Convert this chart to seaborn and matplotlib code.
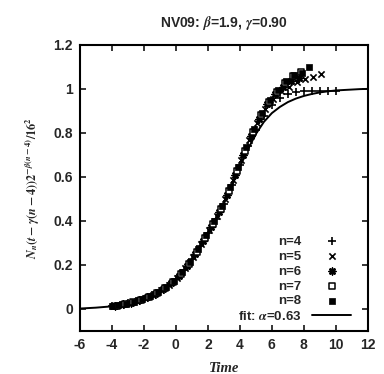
import numpy as np
import pandas as pd
import matplotlib
matplotlib.use("Agg")
import matplotlib.pyplot as plt
import seaborn as sns

# rescaled data, one series per n
t_n4 = [-4.0, -3.5, -3.0, -2.5, -2.0, -1.5, -1.0, -0.5, 0.0, 0.5, 1.0, 1.5, 2.0, 2.5,
        3.0, 3.5, 4.0, 4.5, 5.0, 5.5, 6.0, 6.5, 7.0, 7.5, 8.0, 8.5, 9.0, 9.5, 10.0]
y_n4 = [0.012, 0.018, 0.025, 0.035, 0.047, 0.062, 0.080, 0.105, 0.135, 0.175, 0.225, 0.285,
        0.345, 0.410, 0.478, 0.565, 0.655, 0.742, 0.815, 0.875, 0.925, 0.958, 0.975, 0.985,
        0.990, 0.990, 0.992, 0.990, 0.990]

t_n5 = [-3.9, -3.4, -2.9, -2.4, -1.9, -1.4, -0.9, -0.4, 0.1, 0.6, 1.1, 1.6, 2.1, 2.6,
        3.1, 3.6, 4.1, 4.6, 5.1, 5.6, 6.1, 6.6, 7.1, 7.6, 8.1, 8.6, 9.1]
y_n5 = [0.013, 0.019, 0.027, 0.037, 0.050, 0.065, 0.085, 0.110, 0.142, 0.185, 0.236, 0.297,
        0.358, 0.424, 0.498, 0.588, 0.678, 0.766, 0.845, 0.910, 0.955, 0.990, 1.010, 1.030,
        1.045, 1.055, 1.068]

t_n6 = [-3.8, -3.3, -2.8, -2.3, -1.8, -1.3, -0.8, -0.3, 0.2, 0.7, 1.2, 1.7, 2.2, 2.7,
        3.2, 3.7, 4.2, 4.7, 5.2, 5.7, 6.2, 6.7, 7.2, 7.7]
y_n6 = [0.014, 0.021, 0.029, 0.040, 0.053, 0.069, 0.090, 0.118, 0.152, 0.195, 0.248, 0.310,
        0.372, 0.440, 0.520, 0.610, 0.700, 0.785, 0.865, 0.930, 0.975, 1.010, 1.035, 1.050]

t_n7 = [-3.7, -3.2, -2.7, -2.2, -1.7, -1.2, -0.7, -0.2, 0.3, 0.8, 1.3, 1.8, 2.3, 2.8,
        3.3, 3.8, 4.3, 4.8, 5.3, 5.8, 6.3, 6.8, 7.3, 7.8]
y_n7 = [0.015, 0.022, 0.031, 0.042, 0.056, 0.072, 0.095, 0.122, 0.160, 0.205, 0.260, 0.322,
        0.385, 0.455, 0.535, 0.628, 0.720, 0.805, 0.880, 0.940, 0.985, 1.025, 1.060, 1.075]

t_n8 = [-4.0, -3.6, -3.1, -2.6, -2.1, -1.6, -1.1, -0.6, -0.1, 0.4, 0.9, 1.4, 1.9, 2.4,
        2.9, 3.4, 3.9, 4.4, 4.9, 5.4, 5.9, 6.4, 6.9, 7.4, 7.9, 8.3]
y_n8 = [0.012, 0.016, 0.024, 0.033, 0.045, 0.059, 0.076, 0.100, 0.128, 0.168, 0.215, 0.272,
        0.335, 0.398, 0.468, 0.552, 0.645, 0.738, 0.820, 0.892, 0.950, 0.995, 1.035, 1.065,
        1.070, 1.100]

# fit curve
fit_t = [-6.0, -5.5, -5.0, -4.5, -4.0, -3.5, -3.0, -2.5, -2.0, -1.5, -1.0, -0.5, 0.0, 0.5,
         1.0, 1.5, 2.0, 2.5, 3.0, 3.5, 4.0, 4.5, 5.0, 5.5, 6.0, 6.5, 7.0, 7.5, 8.0, 8.5,
         9.0, 9.5, 10.0, 10.5, 11.0, 11.5, 12.0]
fit_y = [0.002, 0.004, 0.006, 0.009, 0.012, 0.018, 0.025, 0.034, 0.046, 0.061, 0.080, 0.104,
         0.133, 0.172, 0.220, 0.277, 0.340, 0.408, 0.478, 0.558, 0.645, 0.725, 0.795, 0.850,
         0.890, 0.918, 0.940, 0.956, 0.968, 0.977, 0.984, 0.989, 0.993, 0.995, 0.997, 0.999,
         1.000]

labels = ["n=4", "n=5", "n=6", "n=7", "n=8"]
fit_label = r"fit: $\alpha$=0.63"

sns.set_style("ticks")
plt.rcParams["font.family"] = ["Liberation Sans", "DejaVu Sans"]
plt.rcParams["font.weight"] = "bold"
plt.rcParams["mathtext.fontset"] = "stix"
plt.rcParams["axes.unicode_minus"] = False

fig = plt.figure(figsize=(3.84, 3.74), dpi=100)
ax = fig.add_axes([0.208, 0.115, 0.750, 0.765])

series = [(t_n4, y_n4), (t_n5, y_n5), (t_n6, y_n6), (t_n7, y_n7), (t_n8, y_n8)]
styles = [
    dict(marker="+", color="black", s=26, linewidth=1.2),
    dict(marker="x", color="black", s=20, linewidth=1.2),
    dict(marker=(8, 2, 0), color="black", s=22, linewidth=1.2),
    dict(marker="s", color="white", edgecolor="black", s=18, linewidth=1.1),
    dict(marker="s", color="black", edgecolor="black", s=18, linewidth=0.5),
]
for (tt, yy), lab, st in zip(series, labels, styles):
    sns.scatterplot(x=tt, y=yy, ax=ax, label=lab, zorder=3, **st)

sns.lineplot(x=fit_t, y=fit_y, ax=ax, color="black", linewidth=1.4,
             label=fit_label, zorder=2)

ax.set_xlim(-6, 12)
ax.set_ylim(-0.1, 1.2)
ax.set_xticks(np.arange(-6, 13, 2))
ax.set_yticks([0, 0.2, 0.4, 0.6, 0.8, 1.0, 1.2])
ax.set_yticklabels(["0", "0.2", "0.4", "0.6", "0.8", "1", "1.2"])
ax.tick_params(direction="in", top=True, right=True, length=4, width=1.3,
               labelsize=10, pad=5)
for sp in ax.spines.values():
    sp.set_linewidth(1.5)
    sp.set_color("black")

ax.set_title(r"NV09: $\beta$=1.9, $\gamma$=0.90",
             fontsize=10, fontweight="bold", pad=13)
ax.set_xlabel("Time", family="Liberation Serif", style="italic",
              fontweight="bold", fontsize=10.5, labelpad=7)
ax.set_ylabel(r"$N_n(t-\gamma(n-4))2^{-\beta(n-4)}/16^2$",
              fontsize=8.8, labelpad=8)

ax.legend(loc="lower right", bbox_to_anchor=(0.97, 0.0), frameon=False,
          markerfirst=False, fontsize=9.5, handlelength=3.0, handletextpad=0.8,
          labelspacing=0.2, borderaxespad=0.2)

fig.savefig("out.png", dpi=100)
